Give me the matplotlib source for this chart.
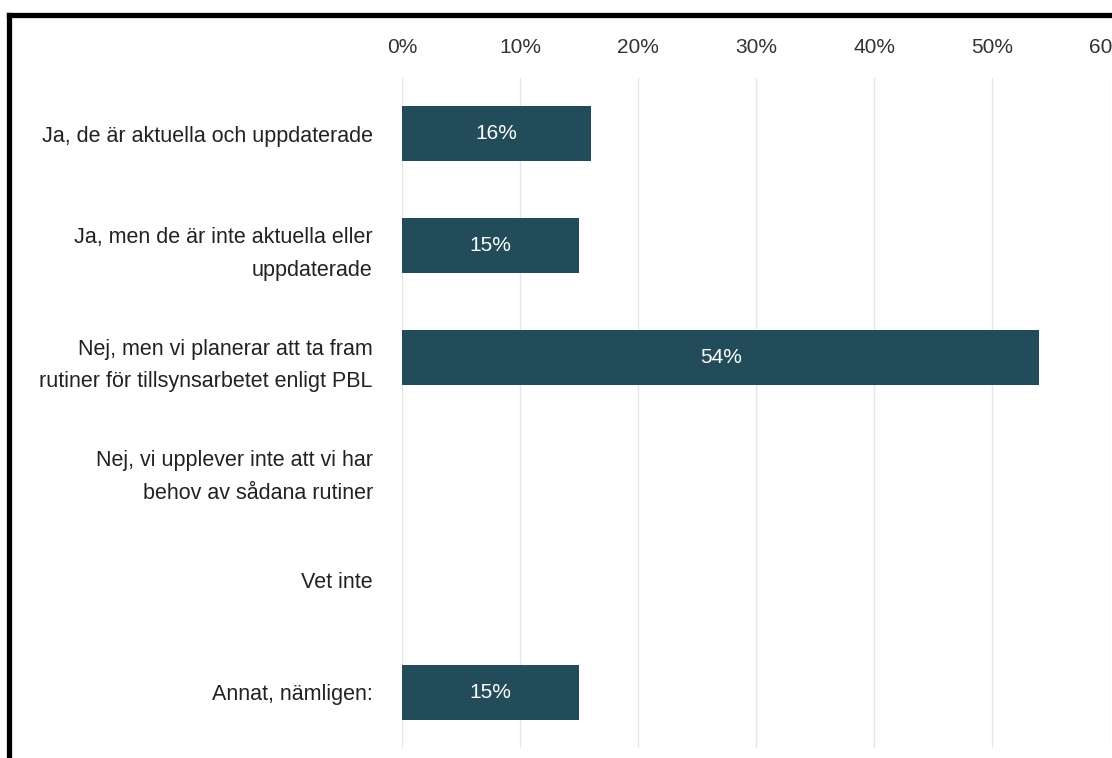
import matplotlib.pyplot as plt
from matplotlib.lines import Line2D

categories = [
    "Ja, de är aktuella och uppdaterade",
    "Ja, men de är inte aktuella eller\nuppdaterade",
    "Nej, men vi planerar att ta fram\nrutiner för tillsynsarbetet enligt PBL",
    "Nej, vi upplever inte att vi har\nbehov av sådana rutiner",
    "Vet inte",
    "Annat, nämligen:",
]
values = [16, 15, 54, 0, 0, 15]
xticks = [0, 10, 20, 30, 40, 50, 60]

plt.rcParams['font.family'] = ['Liberation Sans', 'DejaVu Sans']

fig = plt.figure(figsize=(11.12, 7.58), dpi=100)
ax = fig.add_axes([402 / 1112, 10 / 758, 708 / 1112, 670 / 758])

pos = list(range(len(categories)))
bars = ax.barh(pos, values, height=0.49, color='#234c5a', zorder=3)
for b, v in zip(bars, values):
    if v > 0:
        ax.text(v / 2, b.get_y() + b.get_height() / 2, f"{v}%", ha='center', va='center',
                color='white', fontsize=15, zorder=4)

ax.set_ylim(len(categories) - 0.5, -0.5)
ax.set_xlim(0, 60)
ax.set_yticks(pos)
ax.set_yticklabels(categories, fontsize=15.5, color='#222222', linespacing=1.72)
ax.set_xticks(xticks)
ax.set_xticklabels([f"{t}%" for t in xticks], fontsize=15, color='#333333')
ax.xaxis.tick_top()
ax.tick_params(axis='x', length=0, pad=15)
ax.tick_params(axis='y', length=0, pad=21)
ax.grid(axis='x', color='#e6e6e6', linewidth=1, zorder=0)
for s in ax.spines.values():
    s.set_visible(False)
ax.axvline(0, color='#ccd6eb', linewidth=1.2, zorder=1)

# black frame on top and left
fig.add_artist(Line2D([8.5 / 1112, 8.5 / 1112], [0, 1 - 14.5 / 758], color='black', linewidth=3.8,
                      transform=fig.transFigure, solid_capstyle='projecting'))
fig.add_artist(Line2D([8.5 / 1112, 1.0], [1 - 14.5 / 758, 1 - 14.5 / 758], color='black', linewidth=3.8,
                      transform=fig.transFigure, solid_capstyle='projecting'))

fig.savefig("out.png", dpi=100)
